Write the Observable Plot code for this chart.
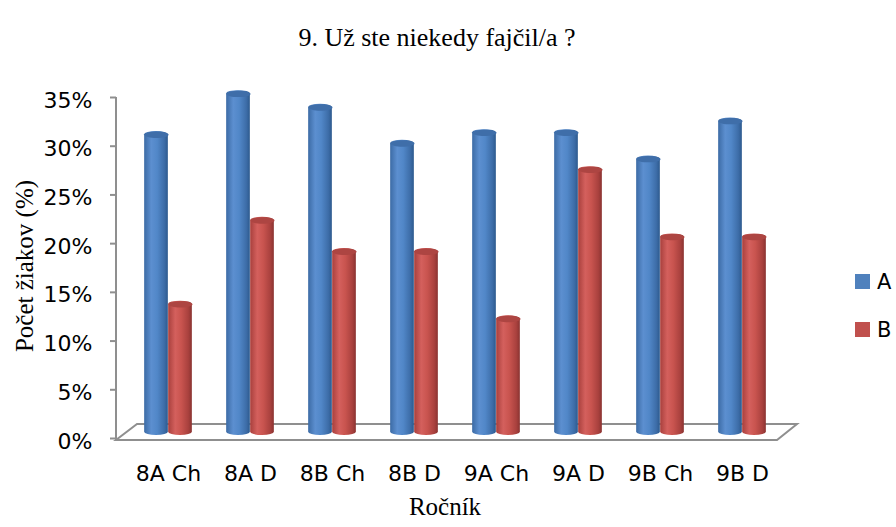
<!DOCTYPE html>
<html>
<head>
<meta charset="utf-8">
<script src="https://cdn.jsdelivr.net/npm/d3@7"></script>
<script src="https://cdn.jsdelivr.net/npm/@observablehq/plot@0.6"></script>
<style>
  html, body { margin: 0; padding: 0; background: #fff; }
  #wrap { position: relative; width: 896px; height: 527px; overflow: hidden; }
  .leg { position: absolute; font: 21px "DejaVu Sans", sans-serif; line-height: 21px; color: #000; }
  .sw { position: absolute; width: 15px; height: 15px; }
</style>
</head>
<body>
<div id="wrap"></div>
<script>
const title = "9. Už ste niekedy fajčil/a ?";
const yLabel = "Počet žiakov (%)";
const xLabel = "Ročník";
const categories = ["8A Ch", "8A D", "8B Ch", "8B D", "9A Ch", "9A D", "9B Ch", "9B D"];
const seriesNames = ["A", "B"];
const valuesA = [31.5, 35.7, 34.3, 30.6, 31.7, 31.7, 29.0, 32.9];
const valuesB = [14.1, 22.7, 19.5, 19.5, 12.6, 27.9, 21.0, 21.0];
const yTicks = [0, 5, 10, 15, 20, 25, 30, 35];
const seriesColors = ["#4F81BD", "#C0504D"];

const rowsA = categories.map((c, i) => ({cat: c, series: seriesNames[0], value: valuesA[i]}));
const rowsB = categories.map((c, i) => ({cat: c, series: seriesNames[1], value: valuesB[i]}));

const NS = "http://www.w3.org/2000/svg";
function el(name, attrs) {
  const e = document.createElementNS(NS, name);
  for (const k in attrs) e.setAttribute(k, attrs[k]);
  return e;
}

// gradients for the cylinder look
function defsMark() {
  const defs = el("defs", {});
  const mk = (id, stops) => {
    const g = el("linearGradient", {id, x1: "0", y1: "0", x2: "1", y2: "0"});
    stops.forEach(([o, c]) => g.appendChild(el("stop", {offset: o, "stop-color": c})));
    defs.appendChild(g);
  };
  mk("gA", [["0", "#3C6BA5"], ["0.3", "#5C8FD0"], ["0.55", "#5187C8"], ["0.85", "#3D6DA8"], ["1", "#2D5A8E"]]);
  mk("gB", [["0", "#A8403D"], ["0.3", "#D4605D"], ["0.55", "#C9544F"], ["0.85", "#A9413E"], ["1", "#8A3331"]]);
  return defs;
}

// floor (3D base) and value axis line, positioned through the y scale
function floorMark(index, scales, values, dims) {
  const g = el("g", {});
  const y0 = scales.y(0);
  const yt = scales.y(yTicks[yTicks.length - 1]);
  const L = dims.marginLeft, R = dims.width - dims.marginRight;
  const front = y0 + 2, back = y0 - 14;
  g.appendChild(el("path", {
    d: `M${L},${front}H${R}L${R + 20},${back}H${L + 21}Z`,
    fill: "none", stroke: "#8f8f8f", "stroke-width": 2
  }));
  g.appendChild(el("path", {
    d: `M${L},${yt}V${front}`,
    fill: "none", stroke: "#8f8f8f", "stroke-width": 2
  }));
  return g;
}

// ellipse symbol for cylinder tops
const K = 0.5523;
const capSymbol = {
  draw(ctx) {
    const rx = 12, ry = 3.2;
    ctx.moveTo(-rx, 0);
    ctx.bezierCurveTo(-rx, -ry * K, -rx * K, -ry, 0, -ry);
    ctx.bezierCurveTo(rx * K, -ry, rx, -ry * K, rx, 0);
    ctx.bezierCurveTo(rx, ry * K, rx * K, ry, 0, ry);
    ctx.bezierCurveTo(-rx * K, ry, -rx, ry * K, -rx, 0);
    ctx.closePath();
  }
};

const bw = (784.5 - 126) / categories.length;
const barW = 24;
const sans = "'DejaVu Sans', sans-serif";
const serif = "'Liberation Serif', 'Times New Roman', serif";

const chart = Plot.plot({
  width: 896,
  height: 527,
  marginLeft: 116,
  marginRight: 119,
  marginTop: 97,
  marginBottom: 89,
  style: {fontFamily: sans, color: "#000", background: "#fff", overflow: "visible"},
  x: {domain: categories, range: [126, 784.5], padding: 0, axis: null},
  y: {domain: [0, 35], axis: null},
  marks: [
    defsMark,
    floorMark,
    Plot.barY(rowsA, {x: "cat", y: "value", fill: "url(#gA)", insetLeft: bw / 2 - barW, insetRight: bw / 2, insetBottom: 3, rx: 12, ry: 3.2}),
    Plot.dot(rowsA, {x: "cat", y: "value", dx: -barW / 2, dy: 3.2, symbol: capSymbol, r: 5, fill: "#3F6EA9", stroke: "none"}),
    Plot.barY(rowsB, {x: "cat", y: "value", fill: "url(#gB)", insetLeft: bw / 2, insetRight: bw / 2 - barW, insetBottom: 3, rx: 12, ry: 3.2}),
    Plot.dot(rowsB, {x: "cat", y: "value", dx: barW / 2, dy: 3.2, symbol: capSymbol, r: 5, fill: "#AD4542", stroke: "none"}),
    Plot.axisY({ticks: yTicks, tickFormat: () => "", tickSize: 6, stroke: "#8f8f8f", strokeWidth: 2, label: null}),
    Plot.text(yTicks, {y: d => d, text: d => d + "%", frameAnchor: "left", textAnchor: "end", dx: -24, dy: 3, fontSize: 22, fontFamily: sans, fill: "#000"}),
    Plot.axisX({tickSize: 0, tickPadding: 27, fill: "#000", fontSize: 22, fontFamily: sans, label: null}),
    Plot.text([title], {frameAnchor: "top", textAnchor: "middle", dx: -10, dy: -70, fontSize: 26, fontFamily: serif, fill: "#000"}),
    Plot.text([yLabel], {frameAnchor: "left", textAnchor: "middle", rotate: -90, dx: -92, dy: -2, fontSize: 25, fontFamily: serif, fill: "#000"}),
    Plot.text([xLabel], {frameAnchor: "bottom", textAnchor: "middle", dx: -2, dy: 76, fontSize: 25, fontFamily: serif, fill: "#000"})
  ]
});

const wrap = document.getElementById("wrap");
wrap.appendChild(chart);

// legend
const legTops = [274, 322];
seriesNames.forEach((s, i) => {
  const sw = document.createElement("div");
  sw.className = "sw";
  sw.style.left = "855px";
  sw.style.top = legTops[i] + "px";
  sw.style.background = seriesColors[i];
  wrap.appendChild(sw);
  const t = document.createElement("div");
  t.className = "leg";
  t.style.left = "877px";
  t.style.top = (legTops[i] - 2) + "px";
  t.textContent = s;
  wrap.appendChild(t);
});
</script>
</body>
</html>
